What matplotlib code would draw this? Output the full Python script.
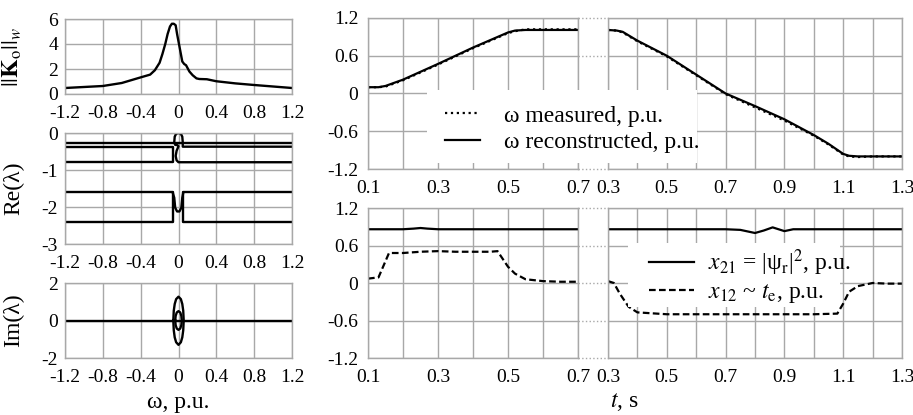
import matplotlib
matplotlib.use('Agg')
import matplotlib.pyplot as plt
from matplotlib.patches import Rectangle

plt.rcParams['font.family'] = ['Liberation Serif', 'DejaVu Serif']
plt.rcParams['mathtext.fontset'] = 'stix'
plt.rcParams['axes.unicode_minus'] = False

# === データ ===
# ||Ko||w vs omega
w_k = [-1.2, -0.8, -0.6, -0.4, -0.3, -0.25, -0.2, -0.17, -0.14, -0.115, -0.09, -0.07,
       -0.05, -0.03, -0.015, 0.01, 0.04, 0.06, 0.08, 0.115, 0.15, 0.19, 0.22, 0.3,
       0.4, 0.6, 0.8, 1.0, 1.2]
k_norm = [0.48, 0.64, 0.88, 1.33, 1.55, 1.9, 2.5, 3.2, 4.0, 4.8, 5.4, 5.62,
          5.62, 5.5, 4.8, 3.8, 2.6, 2.4, 2.3, 1.8, 1.5, 1.25, 1.2, 1.18,
          1.02, 0.85, 0.72, 0.6, 0.48]

# Re(lambda) branches
re_top_w = [-1.2, 1.2]
re_top = [-0.28, -0.28]
re_left_w = [-1.2, -0.06, -0.06, -1.2]
re_left = [-0.37, -0.37, -0.79, -0.79]
re_loop_w = [1.2, 0.045, 0.045, 0.04, 0.025, 0.0, -0.025, -0.04, -0.045, -0.035, -0.01, 0.0,
             -0.02, -0.03, -0.02, 0.0, 0.04, 1.2]
re_loop = [-0.37, -0.37, -0.25, -0.1, -0.02, 0.0, -0.02, -0.1, -0.25, -0.32, -0.33, -0.36,
           -0.48, -0.62, -0.74, -0.79, -0.79, -0.79]
re_low_l_w = [-1.2, -0.06, -0.06, -1.2]
re_low_l = [-1.6, -1.6, -2.41, -2.41]
re_low_r_w = [1.2, 0.05, 0.05, 1.2]
re_low_r = [-1.6, -1.6, -2.41, -2.41]
re_u_w = [-0.06, -0.045, -0.035, -0.015, 0.01, 0.03, 0.04, 0.05]
re_u = [-1.62, -1.75, -2.02, -2.12, -2.12, -2.02, -1.75, -1.62]

# Im(lambda)
im_zero_w = [-1.2, 1.2]
im_zero = [0.0, 0.0]
im_out_w = [-0.055, -0.05, -0.04, -0.025, 0.0, 0.025, 0.04, 0.05, 0.055,
            0.05, 0.04, 0.025, 0.0, -0.025, -0.04, -0.05, -0.055]
im_out = [0.0, 0.52, 0.88, 1.14, 1.27, 1.14, 0.88, 0.52, 0.0,
          -0.52, -0.9, -1.16, -1.3, -1.16, -0.9, -0.52, 0.0]
im_in_w = [-0.035, -0.03, -0.018, 0.0, 0.018, 0.03, 0.035, 0.03, 0.018, 0.0, -0.018, -0.03, -0.035]
im_in = [0.0, 0.25, 0.43, 0.5, 0.43, 0.25, 0.0, -0.25, -0.43, -0.5, -0.43, -0.25, 0.0]

# omega (time), two time windows
t_a = [0.1, 0.13, 0.15, 0.17, 0.2, 0.3, 0.4, 0.5, 0.52, 0.55, 0.6, 0.7]
w_rec_a = [0.1, 0.1, 0.12, 0.16, 0.22, 0.47, 0.73, 0.97, 1.0, 1.01, 1.01, 1.01]
w_meas_a = [0.1, 0.1, 0.11, 0.15, 0.21, 0.46, 0.72, 0.96, 0.99, 1.02, 1.02, 1.02]
t_b = [0.3, 0.33, 0.35, 0.4, 0.5, 0.6, 0.7, 0.8, 0.9, 1.0, 1.05, 1.1, 1.12, 1.15, 1.2, 1.3]
w_rec_b = [1.01, 1.0, 0.98, 0.84, 0.6, 0.3, 0.0, -0.2, -0.41, -0.66, -0.8, -0.96, -0.99, -1.0, -1.0, -1.0]
w_meas_b = [1.01, 1.0, 0.97, 0.83, 0.59, 0.29, -0.01, -0.22, -0.43, -0.67, -0.81, -0.97, -1.0, -1.01, -1.0, -1.0]

# x21, x12
t21_a = [0.1, 0.2, 0.23, 0.25, 0.27, 0.3, 0.5, 0.7]
x21_a = [0.86, 0.86, 0.87, 0.88, 0.87, 0.86, 0.86, 0.86]
t21_b = [0.3, 0.7, 0.75, 0.78, 0.8, 0.83, 0.86, 0.9, 0.93, 0.96, 1.0, 1.3]
x21_b = [0.86, 0.86, 0.85, 0.82, 0.80, 0.84, 0.89, 0.83, 0.86, 0.86, 0.86, 0.86]
t12_a = [0.1, 0.13, 0.16, 0.2, 0.25, 0.3, 0.35, 0.4, 0.45, 0.47, 0.5, 0.52, 0.55, 0.6, 0.65, 0.7]
x12_a = [0.07, 0.09, 0.48, 0.48, 0.5, 0.51, 0.5, 0.5, 0.5, 0.51, 0.26, 0.15, 0.06, 0.03, 0.02, 0.02]
t12_b = [0.3, 0.32, 0.34, 0.37, 0.4, 0.5, 0.6, 0.7, 0.8, 0.9, 1.0, 1.08, 1.1, 1.12, 1.15, 1.2, 1.25, 1.3]
x12_b = [0.03, 0.0, -0.17, -0.38, -0.47, -0.5, -0.5, -0.5, -0.5, -0.5, -0.5, -0.49, -0.33, -0.14, -0.05, 0.0, -0.01, -0.01]

# 目盛
w_ticks = [-1.2, -0.8, -0.4, 0, 0.4, 0.8, 1.2]
k_ticks = [0, 2, 4, 6]
re_ticks = [0, -1, -2, -3]
im_ticks = [-2, 0, 2]
r_yticks = [-1.2, -0.6, 0, 0.6, 1.2]
ta_ticks = [0.1, 0.3, 0.5, 0.7]
ta_grid = [0.1, 0.2, 0.3, 0.4, 0.5, 0.6, 0.7]
tb_ticks = [0.3, 0.5, 0.7, 0.9, 1.1, 1.3]
tb_grid = [0.3, 0.4, 0.5, 0.6, 0.7, 0.8, 0.9, 1.0, 1.1, 1.2, 1.3]

# === 図 ===
W, H = 913, 415
fig = plt.figure(figsize=(W / 100, H / 100), dpi=100)
GRID = '#a8a8a8'
FS = 14


def px_axes(l, t, r, b):
    return fig.add_axes([l / W, 1 - b / H, (r - l) / W, (b - t) / H])


def fmt(v):
    s = f'{v:g}'
    return '0' if s == '-0' else s


def style(ax, xt, yt, xg=None, ylab=True, ypad=5):
    xs = xg if xg is not None else xt
    ax.set_xticks(xs)
    ax.set_xticklabels([fmt(v) if v in xt else '' for v in xs])
    ax.set_yticks(yt)
    ax.set_yticklabels([fmt(v) for v in yt] if ylab else [])
    ax.set_xlim(min(xs), max(xs))
    ax.set_ylim(min(yt), max(yt))
    ax.grid(True, color=GRID, lw=1.0)
    ax.set_axisbelow(True)
    for sp in ax.spines.values():
        sp.set_color(GRID)
        sp.set_linewidth(1.0)
    ax.tick_params(length=0, labelsize=FS, pad=8)
    ax.tick_params(axis='y', pad=ypad)


LW = 1.7

# 左側
ax_k = px_axes(65, 19, 292, 94)
ax_k.plot(w_k, k_norm, color='k', lw=LW)
style(ax_k, w_ticks, k_ticks)
ax_k.set_ylabel(r'$||\mathbf{K}_\mathrm{o}||_w$', fontsize=17)

ax_re = px_axes(65, 133, 292, 244)
for xs, ys in [(re_top_w, re_top), (re_left_w, re_left), (re_loop_w, re_loop),
               (re_low_l_w, re_low_l), (re_low_r_w, re_low_r), (re_u_w, re_u)]:
    ax_re.plot(xs, ys, color='k', lw=LW)
style(ax_re, w_ticks, re_ticks)
ax_re.set_ylabel('Re(λ)', fontsize=17)

ax_im = px_axes(65, 283, 292, 358)
for xs, ys in [(im_zero_w, im_zero), (im_out_w, im_out), (im_in_w, im_in)]:
    ax_im.plot(xs, ys, color='k', lw=LW)
style(ax_im, w_ticks, im_ticks)
ax_im.set_ylabel('Im(λ)', fontsize=17)

for ax in (ax_k, ax_re, ax_im):
    ax.yaxis.set_label_coords(-0.18, 0.5)

# 右側 (破断軸)
ax_wa = px_axes(368, 18, 578, 169)
ax_wb = px_axes(608, 18, 902, 169)
ax_xa = px_axes(368, 208, 578, 358)
ax_xb = px_axes(608, 208, 902, 358)

h_meas, = ax_wa.plot(t_a, w_meas_a, color='k', lw=1.6, ls=':')
h_rec, = ax_wa.plot(t_a, w_rec_a, color='k', lw=1.6)
ax_wb.plot(t_b, w_meas_b, color='k', lw=1.6, ls=':')
ax_wb.plot(t_b, w_rec_b, color='k', lw=1.6)

h_21, = ax_xa.plot(t21_a, x21_a, color='k', lw=1.6)
h_12, = ax_xa.plot(t12_a, x12_a, color='k', lw=1.6, ls=(0, (3, 1.5)))
ax_xb.plot(t21_b, x21_b, color='k', lw=1.6)
ax_xb.plot(t12_b, x12_b, color='k', lw=1.6, ls=(0, (3, 1.5)))

for ax in (ax_wa, ax_xa):
    style(ax, ta_ticks, r_yticks, ta_grid, ypad=7)
    gap = (608 - 578) / (578 - 368)
    for y in r_yticks:
        ax.plot([1, 1 + gap], [y, y], transform=ax.get_yaxis_transform(),
                color=GRID, lw=1.0, ls=':', clip_on=False)
for ax in (ax_wb, ax_xb):
    style(ax, tb_ticks, r_yticks, tb_grid, ylab=False)

fig.text(178 / W, 1 - 402 / H, 'ω, p.u.', ha='center', va='center', fontsize=17)
fig.text(624 / W, 1 - 402 / H, '$t$, s', ha='center', va='center', fontsize=17)

# 凡例 (白地で格子を隠す)
fig.patches.append(Rectangle((427 / W, 1 - 163 / H), 270 / W, 73 / H, transform=fig.transFigure,
                             facecolor='white', edgecolor='none', zorder=3))
fig.legend([h_meas, h_rec], ['ω measured, p.u.', 'ω reconstructed, p.u.'],
           loc='center left', bbox_to_anchor=(433 / W, 1 - 129 / H), frameon=False,
           fontsize=17, handlelength=1.5, handletextpad=1.0, labelspacing=0.2, borderpad=0)

fig.patches.append(Rectangle((628 / W, 1 - 307 / H), 212 / W, 64 / H, transform=fig.transFigure,
                             facecolor='white', edgecolor='none', zorder=3))
fig.legend([h_21, h_12], [r'$x_{21}$ = |ψ$_\mathrm{r}$|$^2$, p.u.', r'$x_{12}$ ~ $t_\mathrm{e}$, p.u.'],
           loc='center left', bbox_to_anchor=(637 / W, 1 - 276 / H), frameon=False,
           fontsize=17, handlelength=1.9, handletextpad=0.6, labelspacing=0.15, borderpad=0)

fig.savefig('out.png', dpi=100)
